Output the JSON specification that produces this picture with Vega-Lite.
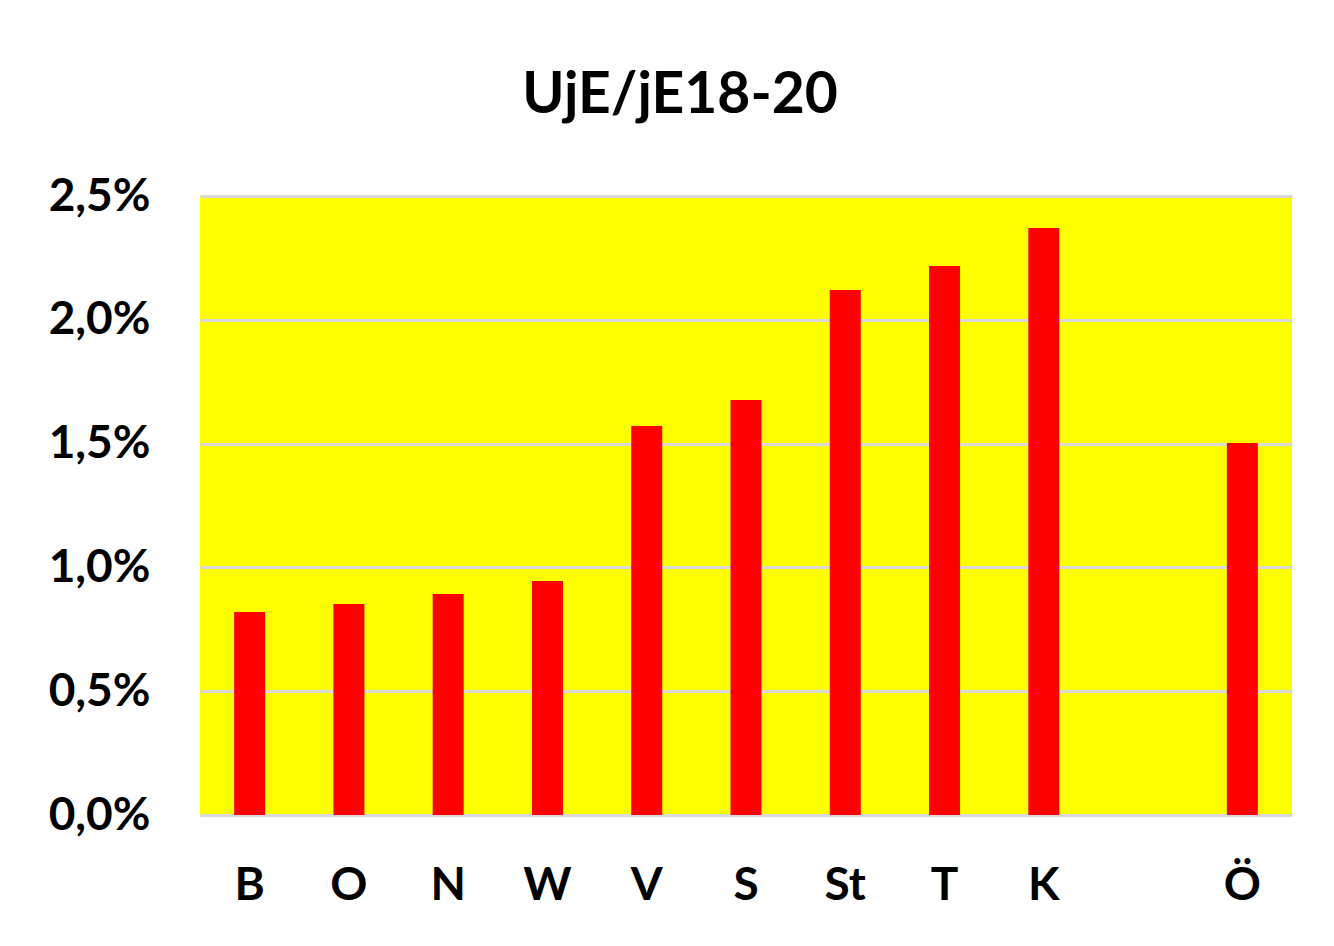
{
  "$schema": "https://vega.github.io/schema/vega-lite/v6.json",
  "width": 1092,
  "height": 619,
  "autosize": "none",
  "padding": {"left": 200, "top": 196, "right": 42, "bottom": 131},
  "background": "white",
  "title": {
    "text": "UjE/jE18-20",
    "font": "Lato",
    "fontSize": 57,
    "fontWeight": "bold",
    "color": "black",
    "anchor": "middle",
    "frame": "group",
    "dx": -66,
    "offset": 48
  },
  "data": {
    "values": [
      {"region": "B", "share": 0.0082},
      {"region": "O", "share": 0.00852},
      {"region": "N", "share": 0.00893},
      {"region": "W", "share": 0.00945},
      {"region": "V", "share": 0.01571},
      {"region": "S", "share": 0.01676},
      {"region": "St", "share": 0.0212},
      {"region": "T", "share": 0.02217},
      {"region": "K", "share": 0.02371},
      {"region": "Ö", "share": 0.01502}
    ]
  },
  "mark": {"type": "bar", "color": "#ff0000", "size": 31},
  "encoding": {
    "x": {
      "field": "region",
      "type": "nominal",
      "scale": {"domain": ["B", "O", "N", "W", "V", "S", "St", "T", "K", " ", "Ö"], "paddingInner": 0, "paddingOuter": 0},
      "axis": {
        "title": null,
        "labelAngle": 0,
        "labelFont": "Lato",
        "labelFontSize": 46,
        "labelFontWeight": "bold",
        "labelColor": "black",
        "labelPadding": 48,
        "ticks": false,
        "domain": false,
        "grid": false
      }
    },
    "y": {
      "field": "share",
      "type": "quantitative",
      "scale": {"domain": [0, 0.025], "nice": false},
      "axis": {
        "title": null,
        "values": [0, 0.005, 0.01, 0.015, 0.02, 0.025],
        "labelExpr": "replace(format(datum.value, '.1%'), '.', ',')",
        "labelFont": "Lato",
        "labelFontSize": 46,
        "labelFontWeight": "bold",
        "labelColor": "black",
        "labelPadding": 50,
        "ticks": false,
        "domain": false,
        "grid": true,
        "gridColor": "#d9d9d9",
        "gridWidth": 3
      }
    }
  },
  "config": {
    "view": {"fill": "#ffff00", "stroke": null}
  }
}
